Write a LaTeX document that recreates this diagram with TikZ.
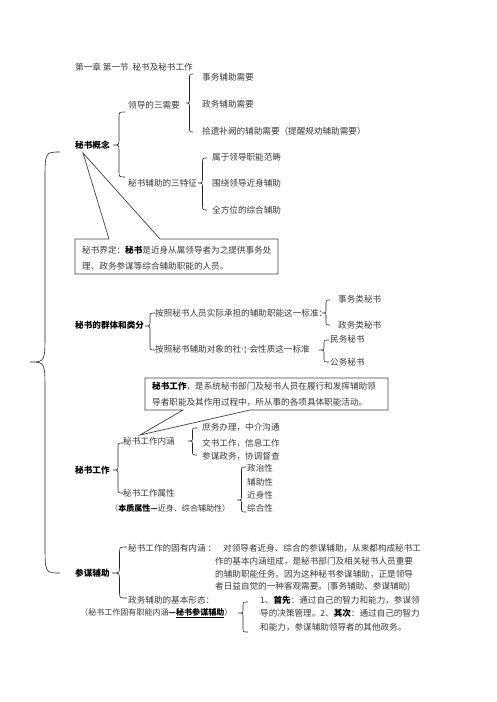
\documentclass[tikz,border=0pt]{standalone}
\usepackage{fontspec}
\setmainfont{Noto Sans CJK SC}
\newfontfamily\symfont{DejaVu Sans}
\usepackage{tikz}
\usetikzlibrary{positioning}

\newcommand{\fs}{\fontsize{8.6}{16}\selectfont}
% left brace: right x, top y, tip y, bottom y, width, curl
\newcommand{\wbrace}[6]{%
  \draw[brc] (#1,#2) .. controls (#1-#5/2,#2) .. (#1-#5/2,#2+#6)
    -- (#1-#5/2,#3-#6) .. controls (#1-#5/2,#3) .. (#1-#5,#3)
    .. controls (#1-#5/2,#3) .. (#1-#5/2,#3+#6)
    -- (#1-#5/2,#4-#6) .. controls (#1-#5/2,#4) .. (#1,#4);}

\tikzset{
  txt/.style={anchor=west, inner sep=0pt, text=black!78, font=\fs},
  hd/.style={anchor=west, inner sep=0pt, font=\fs\bfseries},
  tight/.style={font=\fontsize{8.05}{16}\selectfont},
  brc/.style={draw=black!85, line width=0.6pt},
  callout/.style={draw=black!75, line width=0.7pt, fill=white, line join=miter}
}

\begin{document}
\begin{tikzpicture}[x=1pt, y=-1pt]
    \useasboundingbox (0,0) rectangle (496,702);

    % Callouts
    \coordinate (tipA) at (83,153);
    \coordinate (tipB) at (140,435);
    \draw[callout] (75,239) -- (109,239) -- (tipA) -- (160,239) -- (278,239)
        -- (278,274) -- (75,274) -- cycle;
    \draw[callout] (145,378) -- (388,378) -- (388,410) -- (250,410) -- (tipB)
        -- (183,410) -- (145,410) -- cycle;

    % Title
    \node[txt] (title) at (75,67) {第一章~第一节~~秘书及秘书工作};

    % Big brace
    \wbrace{60}{152}{362}{573}{30}{30}

    % Section: concept
    \node[hd] (concept) at (75,145) {秘书概念};
    \wbrace{125}{112}{145}{177}{12}{6}
    \node[txt] (needs) at (128,105) {领导的三需要};
    \wbrace{193}{74}{103}{132}{7}{5}
    \node[txt] (need1) at (202,77) {事务辅助需要};
    \node[txt] (need2) at (202,104) {政务辅助需要};
    \node[txt] (need3) at (202,131) {拾遗补阙的辅助需要（提醒规劝辅助需要）};
    \node[txt] (traits) at (128,183) {秘书辅助的三特征};
    \wbrace{207}{158}{183}{210}{9}{5}
    \node[txt] (trait1) at (212,157) {属于领导职能范畴};
    \node[txt] (trait2) at (212,183) {围绕领导近身辅助};
    \node[txt] (trait3) at (212,210) {全方位的综合辅助};
    \node[txt, align=left] (define) at (82,258)
        {秘书界定：\textbf{\color{black}秘书}是近身从属领导者为之提供事务处\\
         理、政务参谋等综合辅助职能的人员。};

    % Section: groups
    \node[hd] (group) at (75,325) {秘书的群体和类分};
    \wbrace{155}{313}{326}{350}{10}{5}
    \node[txt] (std1) at (155,313) {按照秘书人员实际承担的辅助职能这一标准：};
    \wbrace{330}{300}{313}{325}{8}{4}
    \node[txt] (cls1) at (338,299) {事务类秘书};
    \node[txt] (cls2) at (338,325) {政务类秘书};
    \node[txt] (std2) at (155,350) {按照秘书辅助对象的社{\symfont ·¦·}会性质这一标准};
    \wbrace{329}{340}{350}{362}{10}{4}
    \node[txt] (cls3) at (330,339) {民务秘书};
    \node[txt] (cls4) at (330,362) {公务秘书};
    \node[txt, align=left] (work-def) at (152,394)
        {\textbf{\color{black}秘书工作}，是系统秘书部门及秘书人员在履行和发挥辅助领\\
         导者职能及其作用过程中，所从事的各项具体职能活动。};

    % Section: work
    \node[hd] (work) at (75,470) {秘书工作};
    \wbrace{123}{443}{470}{493}{10}{5}
    \node[txt] (scope) at (123,441) {秘书工作内涵};
    \wbrace{197}{428}{441}{455}{9}{4}
    \node[txt] (scope1) at (202,427) {庶务办理，中介沟通};
    \node[txt] (scope2) at (202,443) {文书工作，信息工作};
    \node[txt] (scope3) at (202,456) {参谋政务，协调督查};
    \node[txt] (attr) at (123,493) {秘书工作属性};
    \node[txt, tight] (essence) at (110,508)
        {（\textbf{\color{black}本质属性—}近身、综合辅助性）};
    \wbrace{246}{467}{500}{512}{9}{4}
    \node[txt] (attr1) at (247,468) {政治性};
    \node[txt] (attr2) at (247,482) {辅助性};
    \node[txt] (attr3) at (247,495) {近身性};
    \node[txt] (attr4) at (247,508) {综合性};

    % Section: advising
    \node[hd] (advise) at (75,573) {参谋辅助};
    \wbrace{127}{547}{573}{598}{15}{6}
    \node[txt] (inherent) at (128,548) {秘书工作的固有内涵~：};
    \node[txt] (para1) at (223,548) {对领导者近身、综合的参谋辅助，从来都构成秘书工};
    \node[txt] (para2) at (215,561) {作的基本内涵组成，是秘书部门及相关秘书人员重要};
    \node[txt] (para3) at (215,574) {的辅助职能任务。因为这种秘书参谋辅助，正是领导};
    \node[txt] (para4) at (215,587) {者日益自觉的一种客观需要。(事务辅助、参谋辅助)};
    \node[txt] (forms) at (128,600) {政务辅助的基本形态：};
    \node[txt, tight] (core) at (80,613)
        {（秘书工作固有职能内涵\textbf{\color{black}—\underline{秘书参谋辅助}}）};
    \wbrace{248}{602}{613}{632}{10}{4}
    \node[txt] (form1) at (260,600) {1、\textbf{\color{black}首先}：通过自己的智力和能力，参谋领};
    \node[txt] (form2) at (260,613) {导的决策管理。2、\textbf{\color{black}其次}：通过自己的智力};
    \node[txt] (form3) at (260,627) {和能力，参谋辅助领导者的其他政务。};
\end{tikzpicture}
\end{document}
